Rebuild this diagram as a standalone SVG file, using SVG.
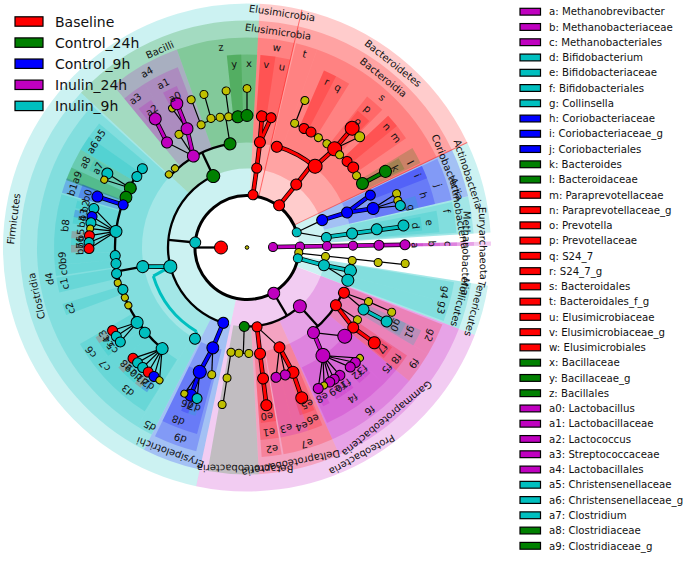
<svg xmlns="http://www.w3.org/2000/svg" xmlns:xlink="http://www.w3.org/1999/xlink" width="688" height="562" viewBox="0 0 688 562">
<style>
text{font-family:"DejaVu Sans","Liberation Sans",Arial,sans-serif;fill:#111}
.l text{font-size:10px;text-anchor:middle;dominant-baseline:central}
.sc{fill:none;stroke-opacity:.2}
.P{stroke-width:192}.K{stroke-width:148}.O{stroke-width:105}.F{stroke-width:61}.N{stroke-width:18}
.sR{stroke:#f00}.sG{stroke:#008000}.sB{stroke:#00f}.sM{stroke:#bf00bf}.sC{stroke:#00bfbf}
.e{fill:none;stroke:#000;stroke-width:1.2}
.e2{fill:none;stroke:#000;stroke-width:2.3}
.e3{fill:none;stroke:#000;stroke-width:3}
.o{fill:none;stroke:#000;stroke-width:4.6}
.cR{fill:none;stroke:#f00;stroke-width:3}.cG{fill:none;stroke:#008000;stroke-width:3}.cB{fill:none;stroke:#00f;stroke-width:3}.cM{fill:none;stroke:#bf00bf;stroke-width:3}.cC{fill:none;stroke:#00bfbf;stroke-width:3}
.n{stroke:#000;stroke-width:1}
.r{fill:#f00}.g{fill:#008000}.b{fill:#00f}.m{fill:#bf00bf}.c{fill:#00bfbf}.y{fill:#bfbf00}
.lg{stroke:#000;stroke-width:1.2}
.leg1 text{font-size:14px}
.leg2 text{font-size:10.2px}
</style>
<defs>
<g id="gR">
<line x1="53" x2="80" y2="0.7" transform="rotate(276.5)"/>
<line x1="80" x2="106" transform="rotate(277)"/>
<line x1="106" x2="132" y2="-1.15" transform="rotate(277)"/>
<line x1="106" x2="131.75" y2="8.06" transform="rotate(277)"/>
<line x1="53" x2="80" y2="0.98" transform="rotate(307.3)"/>
<line x1="80" x2="105.5" transform="rotate(308)"/>
<circle r="105.5" pathLength="360" stroke-dasharray="23.5 360" transform="rotate(286.5)"/>
<line x1="106" x2="131.95" y2="3.69" transform="rotate(310)"/>
<line x1="132" x2="159" y2="-0.55" transform="rotate(311.6)"/>
<line x1="106" x2="132.68" y2="9.28" transform="rotate(33)"/>
<line x1="133" x2="159" y2="-0.55" transform="rotate(37)"/>
<line x1="80" x2="107" y2="0.37" transform="rotate(82.8)"/>
<line x1="107" x2="159" transform="rotate(83)"/>
<line x1="105" x2="132.9" y2="-5.1" transform="rotate(72)"/>
<line x1="133" x2="160" y2="0.56" transform="rotate(69.8)"/>
</g>
<g id="gG">
<line x1="132" x2="158" y2="0.55" transform="rotate(331)"/>
</g>
<g id="gB">
<line x1="80" x2="106" y2="1.3" transform="rotate(340)"/>
<line x1="106" x2="131.9" y2="4.84" transform="rotate(340.7)"/>
<line x1="106" x2="133.7" y2="-8.65" transform="rotate(340.7)"/>
<line x1="79" x2="106" y2="2.4" transform="rotate(107.5)"/>
<line x1="106" x2="132.92" y2="4.64" transform="rotate(108.8)"/>
<line x1="133" x2="158" transform="rotate(110.8)"/>
<line x1="131" x2="158" y2="-0.55" transform="rotate(199)"/>
</g>
<g id="gC">
<line x1="80" x2="158" transform="rotate(352.4)"/>
<line x1="52" x2="79" y2="1.38" transform="rotate(12)"/>
<line x1="79" x2="106" y2="-0.74" transform="rotate(13)"/>
<line x1="79" x2="105.8" y2="6.66" transform="rotate(166)"/>
<line x1="132" x2="158" transform="rotate(28)"/>
</g>
<g id="gM">
<line x1="26" x2="158" transform="rotate(-1)"/>
<line x1="106" x2="132.74" y2="8.35" transform="rotate(239.6)"/>
<line x1="133" x2="159.98" y2="2.23" transform="rotate(243.2)"/>
<line x1="132" x2="157.92" y2="4.96" transform="rotate(232.7)"/>
<line x1="108" x2="131.83" y2="6.68" transform="rotate(52)"/>
</g>
</defs>
<rect width="688" height="562" fill="#fff"/>
<g transform="translate(247,247.5)">
<g id="sectors">
<circle class="sc P sC" r="148" pathLength="360" stroke-dasharray="171 360" transform="rotate(102)"/>
<circle class="sc P sR" r="148" pathLength="360" stroke-dasharray="10 360" transform="rotate(273)"/>
<circle class="sc P sR" r="148" pathLength="360" stroke-dasharray="51.5 360" transform="rotate(283)"/>
<circle class="sc P sC" r="148" pathLength="360" stroke-dasharray="22 360" transform="rotate(334.5)"/>
<circle class="sc P sM" r="148" pathLength="360" stroke-dasharray="1 360" transform="rotate(358.6)"/>
<circle class="sc P sC" r="148" pathLength="360" stroke-dasharray="12 360" transform="rotate(9)"/>
<circle class="sc P sM" r="148" pathLength="360" stroke-dasharray="81 360" transform="rotate(21)"/>
<circle class="sc K sG" r="153" pathLength="360" stroke-dasharray="50 360" transform="rotate(223)"/>
<circle class="sc K sC" r="153" pathLength="360" stroke-dasharray="106 360" transform="rotate(117)"/>
<circle class="sc K sB" r="153" pathLength="360" stroke-dasharray="15 360" transform="rotate(102)"/>
<circle class="sc K sR" r="153" pathLength="360" stroke-dasharray="10 360" transform="rotate(273)"/>
<circle class="sc K sR" r="153" pathLength="360" stroke-dasharray="51.5 360" transform="rotate(283)"/>
<circle class="sc K sB" r="153" pathLength="360" stroke-dasharray="12.5 360" transform="rotate(334.5)"/>
<circle class="sc K sC" r="153" pathLength="360" stroke-dasharray="9.5 360" transform="rotate(347)"/>
<circle class="sc K sM" r="153" pathLength="360" stroke-dasharray="1 360" transform="rotate(358.6)"/>
<circle class="sc K sC" r="153" pathLength="360" stroke-dasharray="12 360" transform="rotate(9)"/>
<circle class="sc K sM" r="153" pathLength="360" stroke-dasharray="45 360" transform="rotate(21)"/>
<circle class="sc K sR" r="153" pathLength="360" stroke-dasharray="21 360" transform="rotate(66)"/>
<circle class="sc K sG" r="153" pathLength="360" stroke-dasharray="13 360" transform="rotate(87)"/>
<circle class="sc O sG" r="157.5" pathLength="360" stroke-dasharray="22.5 360" transform="rotate(250.5)"/>
<circle class="sc O sM" r="157.5" pathLength="360" stroke-dasharray="20 360" transform="rotate(230.5)"/>
<circle class="sc O sC" r="157.5" pathLength="360" stroke-dasharray="101 360" transform="rotate(121.5)"/>
<circle class="sc O sC" r="157.5" pathLength="360" stroke-dasharray="4.5 360" transform="rotate(117)"/>
<circle class="sc O sB" r="157.5" pathLength="360" stroke-dasharray="12 360" transform="rotate(104)"/>
<circle class="sc O sR" r="157.5" pathLength="360" stroke-dasharray="10 360" transform="rotate(273)"/>
<circle class="sc O sR" r="157.5" pathLength="360" stroke-dasharray="6 360" transform="rotate(283.5)"/>
<circle class="sc O sR" r="157.5" pathLength="360" stroke-dasharray="45 360" transform="rotate(289.5)"/>
<circle class="sc O sB" r="157.5" pathLength="360" stroke-dasharray="12 360" transform="rotate(335)"/>
<circle class="sc O sC" r="157.5" pathLength="360" stroke-dasharray="8.5 360" transform="rotate(347.5)"/>
<circle class="sc O sM" r="157.5" pathLength="360" stroke-dasharray="1 360" transform="rotate(358.6)"/>
<circle class="sc O sC" r="157.5" pathLength="360" stroke-dasharray="6 360" transform="rotate(9.5)"/>
<circle class="sc O sC" r="157.5" pathLength="360" stroke-dasharray="5 360" transform="rotate(15.5)"/>
<circle class="sc O sR" r="157.5" pathLength="360" stroke-dasharray="9 360" transform="rotate(21.5)"/>
<circle class="sc O sR" r="157.5" pathLength="360" stroke-dasharray="9 360" transform="rotate(30.5)"/>
<circle class="sc O sM" r="157.5" pathLength="360" stroke-dasharray="26.5 360" transform="rotate(39.5)"/>
<circle class="sc O sR" r="157.5" pathLength="360" stroke-dasharray="14 360" transform="rotate(66)"/>
<circle class="sc O sR" r="157.5" pathLength="360" stroke-dasharray="5.5 360" transform="rotate(80.5)"/>
<circle class="sc F sG" r="162.5" pathLength="360" stroke-dasharray="9 360" transform="rotate(264)"/>
<circle class="sc F sG" r="162.5" pathLength="360" stroke-dasharray="4.3 360" transform="rotate(264)"/>
<circle class="sc F sM" r="162.5" pathLength="360" stroke-dasharray="11 360" transform="rotate(238)"/>
<circle class="sc F sM" r="162.5" pathLength="360" stroke-dasharray="7.5 360" transform="rotate(230.5)"/>
<circle class="sc F sR" r="162.5" pathLength="360" stroke-dasharray="9 360" transform="rotate(274)"/>
<circle class="sc F sR" r="162.5" pathLength="360" stroke-dasharray="4.5 360" transform="rotate(274)"/>
<circle class="sc F sR" r="162.5" pathLength="360" stroke-dasharray="8.5 360" transform="rotate(293.5)"/>
<circle class="sc F sR" r="162.5" pathLength="360" stroke-dasharray="4 360" transform="rotate(293.5)"/>
<circle class="sc F sR" r="162.5" pathLength="360" stroke-dasharray="6 360" transform="rotate(308.5)"/>
<circle class="sc F sR" r="162.5" pathLength="360" stroke-dasharray="8.5 360" transform="rotate(317)"/>
<circle class="sc F sR" r="162.5" pathLength="360" stroke-dasharray="4 360" transform="rotate(317)"/>
<circle class="sc F sG" r="162.5" pathLength="360" stroke-dasharray="5 360" transform="rotate(329)"/>
<circle class="sc F sB" r="162.5" pathLength="360" stroke-dasharray="12 360" transform="rotate(335)"/>
<circle class="sc F sB" r="162.5" pathLength="360" stroke-dasharray="4 360" transform="rotate(335)"/>
<circle class="sc F sC" r="162.5" pathLength="360" stroke-dasharray="6.5 360" transform="rotate(349)"/>
<circle class="sc F sM" r="162.5" pathLength="360" stroke-dasharray="1 360" transform="rotate(358.6)"/>
<circle class="sc F sC" r="162.5" pathLength="360" stroke-dasharray="5 360" transform="rotate(25.5)"/>
<circle class="sc F sR" r="162.5" pathLength="360" stroke-dasharray="5.5 360" transform="rotate(34)"/>
<circle class="sc F sM" r="162.5" pathLength="360" stroke-dasharray="5.5 360" transform="rotate(39.5)"/>
<circle class="sc F sM" r="162.5" pathLength="360" stroke-dasharray="20.5 360" transform="rotate(45)"/>
<circle class="sc F sR" r="162.5" pathLength="360" stroke-dasharray="4.5 360" transform="rotate(67)"/>
<circle class="sc F sM" r="162.5" pathLength="360" stroke-dasharray="4 360" transform="rotate(71.5)"/>
<circle class="sc F sM" r="162.5" pathLength="360" stroke-dasharray="4.5 360" transform="rotate(75.5)"/>
<circle class="sc F sR" r="162.5" pathLength="360" stroke-dasharray="5.5 360" transform="rotate(80.5)"/>
<circle class="sc F sB" r="162.5" pathLength="360" stroke-dasharray="11 360" transform="rotate(105)"/>
<circle class="sc F sC" r="162.5" pathLength="360" stroke-dasharray="16 360" transform="rotate(122)"/>
<circle class="sc F sC" r="162.5" pathLength="360" stroke-dasharray="4.5 360" transform="rotate(138)"/>
<circle class="sc F sC" r="162.5" pathLength="360" stroke-dasharray="7.5 360" transform="rotate(142.5)"/>
<circle class="sc F sC" r="162.5" pathLength="360" stroke-dasharray="3.5 360" transform="rotate(159.5)"/>
<circle class="sc F sC" r="162.5" pathLength="360" stroke-dasharray="4.5 360" transform="rotate(166.5)"/>
<circle class="sc F sC" r="162.5" pathLength="360" stroke-dasharray="3.2 360" transform="rotate(171.5)"/>
<circle class="sc F sC" r="162.5" pathLength="360" stroke-dasharray="3.3 360" transform="rotate(174.7)"/>
<circle class="sc F sC" r="162.5" pathLength="360" stroke-dasharray="18 360" transform="rotate(178)"/>
<circle class="sc F sB" r="162.5" pathLength="360" stroke-dasharray="4.5 360" transform="rotate(196.5)"/>
<circle class="sc F sG" r="162.5" pathLength="360" stroke-dasharray="10 360" transform="rotate(200.5)"/>
<circle class="sc F sG" r="162.5" pathLength="360" stroke-dasharray="4 360" transform="rotate(200.5)"/>
<circle class="sc F sC" r="162.5" pathLength="360" stroke-dasharray="4.5 360" transform="rotate(210.5)"/>
<circle class="sc F sC" r="162.5" pathLength="360" stroke-dasharray="9.5 360" transform="rotate(210.5)"/>
<circle class="sc N sM" r="167" pathLength="360" stroke-dasharray="5 360" transform="rotate(241.5)"/>
<circle class="sc N sM" r="167" pathLength="360" stroke-dasharray="5 360" transform="rotate(232)"/>
<circle class="sc N sR" r="167" pathLength="360" stroke-dasharray="5 360" transform="rotate(309)"/>
<circle class="sc N sG" r="167" pathLength="360" stroke-dasharray="4 360" transform="rotate(329.5)"/>
<circle class="sc N sC" r="167" pathLength="360" stroke-dasharray="4 360" transform="rotate(343)"/>
<circle class="sc N sC" r="167" pathLength="360" stroke-dasharray="4.5 360" transform="rotate(350)"/>
<circle class="sc N sM" r="167" pathLength="360" stroke-dasharray="1 360" transform="rotate(358.6)"/>
<circle class="sc N sC" r="167" pathLength="360" stroke-dasharray="4.5 360" transform="rotate(25.5)"/>
<circle class="sc N sR" r="167" pathLength="360" stroke-dasharray="4.5 360" transform="rotate(34.5)"/>
<circle class="sc N sM" r="167" pathLength="360" stroke-dasharray="2.4 360" transform="rotate(62)"/>
<circle class="sc N sM" r="167" pathLength="360" stroke-dasharray="2.4 360" transform="rotate(57.2)"/>
<circle class="sc N sM" r="167" pathLength="360" stroke-dasharray="2 360" transform="rotate(55.3)"/>
<circle class="sc N sM" r="167" pathLength="360" stroke-dasharray="2.4 360" transform="rotate(52.8)"/>
<circle class="sc N sM" r="167" pathLength="360" stroke-dasharray="2.4 360" transform="rotate(48)"/>
<circle class="sc N sM" r="167" pathLength="360" stroke-dasharray="2.4 360" transform="rotate(45.5)"/>
<circle class="sc N sR" r="167" pathLength="360" stroke-dasharray="5 360" transform="rotate(67.5)"/>
<circle class="sc N sR" r="167" pathLength="360" stroke-dasharray="5 360" transform="rotate(80.5)"/>
<circle class="sc N sB" r="167" pathLength="360" stroke-dasharray="2.5 360" transform="rotate(109.5)"/>
<circle class="sc N sC" r="167" pathLength="360" stroke-dasharray="2.5 360" transform="rotate(107)"/>
<circle class="sc N sR" r="167" pathLength="360" stroke-dasharray="2.4 360" transform="rotate(134.6)"/>
<circle class="sc N sC" r="167" pathLength="360" stroke-dasharray="2.4 360" transform="rotate(132.3)"/>
<circle class="sc N sC" r="167" pathLength="360" stroke-dasharray="2.4 360" transform="rotate(129.8)"/>
<circle class="sc N sR" r="167" pathLength="360" stroke-dasharray="2.4 360" transform="rotate(127.2)"/>
<circle class="sc N sB" r="167" pathLength="360" stroke-dasharray="2.4 360" transform="rotate(124.6)"/>
<circle class="sc N sR" r="167" pathLength="360" stroke-dasharray="2.4 360" transform="rotate(147)"/>
<circle class="sc N sC" r="167" pathLength="360" stroke-dasharray="2.4 360" transform="rotate(144.6)"/>
<circle class="sc N sC" r="167" pathLength="360" stroke-dasharray="2.4 360" transform="rotate(142)"/>
<circle class="sc N sC" r="167" pathLength="360" stroke-dasharray="2.4 360" transform="rotate(193)"/>
<circle class="sc N sB" r="167" pathLength="360" stroke-dasharray="2.4 360" transform="rotate(190)"/>
<circle class="sc N sC" r="167" pathLength="360" stroke-dasharray="2.4 360" transform="rotate(187.8)"/>
<circle class="sc N sR" r="167" pathLength="360" stroke-dasharray="2.4 360" transform="rotate(183)"/>
<circle class="sc N sC" r="167" pathLength="360" stroke-dasharray="2.4 360" transform="rotate(180.6)"/>
<circle class="sc N sR" r="167" pathLength="360" stroke-dasharray="2.4 360" transform="rotate(178.4)"/>
<circle class="sc N sB" r="167" pathLength="360" stroke-dasharray="4.5 360" transform="rotate(196.5)"/>
<circle class="sc N sC" r="167" pathLength="360" stroke-dasharray="4 360" transform="rotate(206)"/>
<g stroke="#f00" stroke-opacity=".5" stroke-width="1">
<line x1="52" x2="244" transform="rotate(283)"/>
<line x1="52" x2="244" transform="rotate(334.5)"/>
</g>
</g>
<g id="connectors">
<g class="e3"><circle r="52" pathLength="360" stroke-dasharray="337.5 360" transform="rotate(5.5)"/></g>
<g class="e2">
<line x1="26" x2="52" transform="rotate(180)"/>
<line x1="52" x2="79" transform="rotate(185.5)"/>
<circle r="79" pathLength="360" stroke-dasharray="137.2 360" transform="rotate(107.5)"/>
<line x1="79" x2="105" transform="rotate(244.7)"/>
<circle r="105" pathLength="360" stroke-dasharray="37.6 360" transform="rotate(223.1)"/>
<line x1="106" x2="132" transform="rotate(169.6)"/>
<circle r="132" pathLength="360" stroke-dasharray="87 360" transform="rotate(130)"/>
<line x1="53" x2="79" transform="rotate(59.6)"/>
<circle r="79" pathLength="360" stroke-dasharray="44 360" transform="rotate(48)"/>
<line x1="79" x2="106" transform="rotate(48)"/>
<circle r="106" pathLength="360" stroke-dasharray="27 360" transform="rotate(25)"/>
</g>
<g class="e">
<line x1="105" x2="132" transform="rotate(260.7)"/>
<circle r="132" pathLength="360" stroke-dasharray="20.5 360" transform="rotate(249.5)"/>
<line x1="131" x2="158" transform="rotate(249.4)"/>
<line x1="134" x2="159" transform="rotate(254.4)"/>
<line x1="132" x2="158" transform="rotate(262.2)"/>
<line x1="132" x2="159" transform="rotate(270)"/>
<line x1="106" x2="131.04" y2="-15.86" transform="rotate(239.6)"/>
<line x1="106" x2="132" y2="-1.38" transform="rotate(239.6)"/>
<line x1="133" x2="157.95" y2="-4.14" transform="rotate(243.2)"/>
<line x1="131" x2="157.98" y2="2.48" transform="rotate(207)"/>
<line x1="131" x2="157.94" y2="-4.41" transform="rotate(207)"/>
<path d="M132 0L156.7 -20.4M132 0L157.3 -14.3M132 0L157.8 -7.4M132 0L158 -0.3M132 0L157.9 5.5M132 0L157.6 11.8M132 0L156.7 20.1" transform="rotate(187)"/>
<path d="M133 0L157.8 7.2M133 0L158 0.3M133 0L157.9 -6.6" transform="rotate(145.7)"/>
<path d="M132 0L158.2 16.1M132 0L158.7 9.7M132 0L159 2.8M132 0L158.9 -4.4M132 0L158.6 -11.6M132 0L157.9 -18.3" transform="rotate(130)"/>
<line x1="106" x2="131.78" y2="-7.6" transform="rotate(108.8)"/>
<path d="M133 0L158.85 -6.94M133 0L158.86 6.66" transform="rotate(110.8)"/>
<circle r="132" pathLength="360" stroke-dasharray="40 360" transform="rotate(291)"/>
<line x1="133" x2="158" transform="rotate(291.2)"/>
<line x1="132" x2="157.63" y2="10.75" transform="rotate(311.6)"/>
<path d="M132 0L157.8 -7.2M132 0L158 -0.3M132 0L157.9 5.2" transform="rotate(342.8)"/>
<path d="M52 0L79.89 -4.19M52 0L78.83 13.62" transform="rotate(343)"/>
<line x1="79" x2="105.6" y2="9.24" transform="rotate(13)"/>
<line x1="52" x2="159" transform="rotate(6.2)"/>
<path d="M107 0L132.98 -2.32M107 0L131.82 6.91" transform="rotate(25)"/>
<line x1="133" x2="158.5" transform="rotate(24)"/>
<line x1="106" x2="132" transform="rotate(33)"/>
<line x1="108" x2="130.07" y2="-22.47" transform="rotate(52)"/>
<path d="M132 0L155.4 -28.8M132 0L156.4 -22.5M132 0L157.2 -15.7M132 0L158 -2.5M132 0L157.9 4.4M132 0L157.7 9.6M132 0L157.2 16.2M132 0L156.3 22.8" transform="rotate(54.9)"/>
<line x1="80" x2="103.14" y2="-19.67" transform="rotate(82.8)"/>
<path d="M105 0L132.97 3.02M105 0L132.41 12.52" transform="rotate(72)"/>
<line x1="79" x2="106" transform="rotate(92)"/>
<circle r="106" pathLength="360" stroke-dasharray="9.7 360" transform="rotate(89)"/>
<line x1="106" x2="159" transform="rotate(98.7)"/>
</g>
<g fill="none" stroke="#00bfbf" stroke-width="3">
<circle r="98" pathLength="360" stroke-dasharray="42 360" transform="rotate(121)"/>
<line x1="79" x2="97.87" y2="-5.13" transform="rotate(166)"/>
<line x1="98" x2="104.97" y2="-2.38" transform="rotate(121)"/>
</g>
<use href="#gR" class="o"/><use href="#gG" class="o"/><use href="#gB" class="o"/><use href="#gC" class="o"/><use href="#gM" class="o"/>
<use href="#gR" class="cR"/><use href="#gG" class="cG"/><use href="#gB" class="cB"/><use href="#gC" class="cC"/><use href="#gM" class="cM"/>
</g>
<g id="nodes">
<g id="root"><circle class="n y" r="1.8"/></g>
<g id="kingdoms">
<circle class="n r" cx="26" r="6.5" transform="rotate(180)"/>
<circle class="n m" cx="26" r="4.5" transform="rotate(-1)"/>
</g>
<g id="Firmicutes">
<circle class="n c" cx="52" r="5.5" transform="rotate(185.5)"/>
<circle class="n g" cx="79" r="6.5" transform="rotate(244.7)"/>
<circle class="n c" cx="79" r="6.5" transform="rotate(166)"/>
<circle class="n b" cx="79" r="5.5" transform="rotate(107.5)"/>
<circle class="n y" cx="107" r="3.5" transform="rotate(223.1)"/>
<circle class="n y" cx="107" r="3.5" transform="rotate(227.7)"/>
<circle class="n m" cx="106" r="6" transform="rotate(239.6)"/>
<circle class="n g" cx="105" r="6" transform="rotate(260.7)"/>
<circle class="n m" cx="132" r="5.5" transform="rotate(232.7)"/>
<circle class="n y" cx="132" r="4" transform="rotate(239)"/>
<circle class="n m" cx="133" r="6" transform="rotate(243.2)"/>
<circle class="n y" cx="131" r="4" transform="rotate(249.5)"/>
<circle class="n y" cx="134" r="4" transform="rotate(254.4)"/>
<circle class="n y" cx="133" r="4" transform="rotate(258.3)"/>
<circle class="n y" cx="132" r="4" transform="rotate(262)"/>
<circle class="n g" cx="131" r="6" transform="rotate(266)"/>
<circle class="n g" cx="132" r="6" transform="rotate(270)"/>
<circle class="n m" cx="158" r="6" transform="rotate(234.5)"/>
<circle class="n y" cx="158" r="3.5" transform="rotate(241.7)"/>
<circle class="n m" cx="160" r="6" transform="rotate(244)"/>
<circle class="n y" cx="158" r="4" transform="rotate(249.3)"/>
<circle class="n y" cx="159" r="4" transform="rotate(254.3)"/>
<circle class="n y" cx="158" r="4" transform="rotate(262.4)"/>
<circle class="n y" cx="159" r="4" transform="rotate(270)"/>
<circle class="n c" cx="106" r="6" transform="rotate(169.6)"/>
<circle class="n c" cx="105" r="5.5" transform="rotate(119.7)"/>
<circle class="n c" cx="131" r="5" transform="rotate(217)"/>
<circle class="n c" cx="131" r="5" transform="rotate(212.8)"/>
<circle class="n g" cx="131" r="6" transform="rotate(207)"/>
<circle class="n g" cx="131" r="6" transform="rotate(202.5)"/>
<circle class="n b" cx="131" r="5" transform="rotate(199)"/>
<circle class="n c" cx="132" r="6" transform="rotate(187)"/>
<circle class="n c" cx="132" r="5" transform="rotate(176.5)"/>
<circle class="n c" cx="132" r="5" transform="rotate(173)"/>
<circle class="n c" cx="133" r="5" transform="rotate(168.7)"/>
<circle class="n y" cx="134" r="3.5" transform="rotate(164.7)"/>
<circle class="n c" cx="131" r="5" transform="rotate(161.3)"/>
<circle class="n y" cx="132" r="3.5" transform="rotate(157.7)"/>
<circle class="n y" cx="132" r="3.5" transform="rotate(154)"/>
<circle class="n c" cx="133" r="6" transform="rotate(145.7)"/>
<circle class="n c" cx="133" r="5.5" transform="rotate(140.2)"/>
<circle class="n c" cx="132" r="6" transform="rotate(130)"/>
<circle class="n c" cx="158" r="5.5" transform="rotate(207.9)"/>
<circle class="n y" cx="158" r="3.5" transform="rotate(205.4)"/>
<circle class="n b" cx="158" r="5.5" transform="rotate(198.8)"/>
<circle class="n c" cx="158" r="5" transform="rotate(194.3)"/>
<circle class="n b" cx="158" r="5" transform="rotate(191.3)"/>
<circle class="n c" cx="158" r="5" transform="rotate(189)"/>
<circle class="n y" cx="158" r="3.5" transform="rotate(186.9)"/>
<circle class="n r" cx="158" r="5" transform="rotate(184.3)"/>
<circle class="n c" cx="158" r="5" transform="rotate(181.8)"/>
<circle class="n r" cx="158" r="5" transform="rotate(179.6)"/>
<circle class="n r" cx="158" r="5" transform="rotate(148.3)"/>
<circle class="n c" cx="158" r="5" transform="rotate(145.8)"/>
<circle class="n c" cx="158" r="5" transform="rotate(143.3)"/>
<circle class="n r" cx="159" r="5" transform="rotate(135.8)"/>
<circle class="n c" cx="159" r="5" transform="rotate(133.5)"/>
<circle class="n c" cx="159" r="5" transform="rotate(131)"/>
<circle class="n r" cx="159" r="5" transform="rotate(128.4)"/>
<circle class="n b" cx="159" r="5" transform="rotate(125.8)"/>
<circle class="n y" cx="159" r="3.5" transform="rotate(123.4)"/>
<circle class="n b" cx="106" r="6" transform="rotate(108.8)"/>
<circle class="n b" cx="133" r="6.5" transform="rotate(110.8)"/>
<circle class="n y" cx="132" r="4" transform="rotate(105.5)"/>
<circle class="n b" cx="158" r="6" transform="rotate(110.8)"/>
<circle class="n c" cx="159" r="5" transform="rotate(108.3)"/>
<circle class="n y" cx="159" r="3.5" transform="rotate(113.2)"/>
</g>
<g id="Elusimicrobia">
<circle class="n r" cx="53" r="5" transform="rotate(276.5)"/>
<circle class="n r" cx="80" r="5" transform="rotate(277)"/>
<circle class="n r" cx="106" r="5.5" transform="rotate(277)"/>
<circle class="n r" cx="132" r="5.5" transform="rotate(276.5)"/>
<circle class="n r" cx="132" r="5" transform="rotate(280.5)"/>
</g>
<g id="Bacteroidetes">
<circle class="n r" cx="53" r="5.5" transform="rotate(307.3)"/>
<circle class="n r" cx="80" r="5.5" transform="rotate(308)"/>
<circle class="n r" cx="105" r="5.5" transform="rotate(286.5)"/>
<circle class="n r" cx="106" r="7" transform="rotate(310)"/>
<circle class="n y" cx="133" r="4" transform="rotate(291)"/>
<circle class="n r" cx="132" r="5" transform="rotate(295.6)"/>
<circle class="n r" cx="132" r="5" transform="rotate(299)"/>
<circle class="n y" cx="131" r="4" transform="rotate(303)"/>
<circle class="n y" cx="131" r="4" transform="rotate(307.6)"/>
<circle class="n r" cx="132" r="7" transform="rotate(311.6)"/>
<circle class="n y" cx="131" r="4" transform="rotate(315)"/>
<circle class="n r" cx="132" r="5" transform="rotate(319.3)"/>
<circle class="n r" cx="133" r="5.5" transform="rotate(323)"/>
<circle class="n y" cx="131" r="4" transform="rotate(326.8)"/>
<circle class="n g" cx="132" r="6" transform="rotate(331)"/>
<circle class="n y" cx="158" r="4" transform="rotate(291.5)"/>
<circle class="n r" cx="159" r="7" transform="rotate(311.4)"/>
<circle class="n y" cx="158" r="5" transform="rotate(315.5)"/>
<circle class="n g" cx="158" r="6" transform="rotate(331.2)"/>
</g>
<g id="Actinobacteria">
<circle class="n c" cx="52" r="4.5" transform="rotate(343)"/>
<circle class="n b" cx="80" r="5.5" transform="rotate(340)"/>
<circle class="n c" cx="80" r="5" transform="rotate(352.8)"/>
<circle class="n b" cx="106" r="5.5" transform="rotate(340.7)"/>
<circle class="n c" cx="106" r="5.5" transform="rotate(352.4)"/>
<circle class="n b" cx="134" r="5" transform="rotate(337)"/>
<circle class="n b" cx="132" r="6" transform="rotate(342.8)"/>
<circle class="n c" cx="131" r="5.5" transform="rotate(352)"/>
<circle class="n y" cx="159" r="4" transform="rotate(340.2)"/>
<circle class="n y" cx="158" r="4" transform="rotate(342.7)"/>
<circle class="n c" cx="159" r="5" transform="rotate(344.7)"/>
<circle class="n c" cx="158" r="5.5" transform="rotate(352)"/>
</g>
<g id="Euryarchaeota">
<circle class="n m" cx="53" r="4.5" transform="rotate(-1)"/>
<circle class="n m" cx="80" r="4.5" transform="rotate(-1)"/>
<circle class="n m" cx="106" r="4.5" transform="rotate(-1)"/>
<circle class="n m" cx="132" r="5" transform="rotate(-1)"/>
<circle class="n m" cx="158" r="5" transform="rotate(-1)"/>
</g>
<g id="other-phylum">
<circle class="n y" cx="52" r="4" transform="rotate(5.5)"/>
<circle class="n y" cx="79" r="4" transform="rotate(6.5)"/>
<circle class="n y" cx="106" r="4" transform="rotate(7)"/>
<circle class="n y" cx="132" r="4" transform="rotate(6.5)"/>
<circle class="n y" cx="159" r="4" transform="rotate(5.8)"/>
</g>
<g id="Tenericutes">
<circle class="n c" cx="52" r="4.5" transform="rotate(12)"/>
<circle class="n c" cx="79" r="5.5" transform="rotate(13)"/>
<circle class="n c" cx="106" r="6" transform="rotate(12.6)"/>
<circle class="n c" cx="106" r="6" transform="rotate(18)"/>
</g>
<g id="Proteobacteria">
<circle class="n m" cx="53" r="6" transform="rotate(59.6)"/>
<circle class="n m" cx="79" r="6.5" transform="rotate(48)"/>
<circle class="n r" cx="80" r="5" transform="rotate(82.8)"/>
<circle class="n g" cx="79" r="5" transform="rotate(92)"/>
<circle class="n r" cx="107" r="5.5" transform="rotate(25)"/>
<circle class="n r" cx="106" r="5.5" transform="rotate(33)"/>
<circle class="n m" cx="108" r="6" transform="rotate(52)"/>
<circle class="n r" cx="105" r="5.5" transform="rotate(72)"/>
<circle class="n r" cx="107" r="5.5" transform="rotate(83)"/>
<circle class="n y" cx="106" r="4" transform="rotate(89)"/>
<circle class="n y" cx="106" r="4" transform="rotate(94.4)"/>
<circle class="n y" cx="106" r="4" transform="rotate(98.7)"/>
<circle class="n y" cx="133" r="4" transform="rotate(24)"/>
<circle class="n c" cx="132" r="5.5" transform="rotate(28)"/>
<circle class="n y" cx="132" r="4" transform="rotate(33.2)"/>
<circle class="n r" cx="133" r="5.5" transform="rotate(37)"/>
<circle class="n m" cx="132" r="7" transform="rotate(42.2)"/>
<circle class="n m" cx="132" r="7" transform="rotate(54.9)"/>
<circle class="n r" cx="133" r="6" transform="rotate(69.8)"/>
<circle class="n m" cx="133" r="5" transform="rotate(73.3)"/>
<circle class="n m" cx="133" r="5" transform="rotate(77.4)"/>
<circle class="n r" cx="132" r="5.5" transform="rotate(83)"/>
<circle class="n y" cx="132" r="4" transform="rotate(98.7)"/>
<circle class="n y" cx="158.5" r="4" transform="rotate(24.1)"/>
<circle class="n c" cx="158" r="5.5" transform="rotate(27.9)"/>
<circle class="n r" cx="159" r="6" transform="rotate(36.8)"/>
<circle class="n y" cx="158" r="3.5" transform="rotate(44.4)"/>
<circle class="n m" cx="158" r="5" transform="rotate(46.7)"/>
<circle class="n m" cx="158" r="5" transform="rotate(49.2)"/>
<circle class="n m" cx="158" r="5" transform="rotate(54)"/>
<circle class="n m" cx="158" r="5" transform="rotate(56.5)"/>
<circle class="n m" cx="158" r="5" transform="rotate(58.4)"/>
<circle class="n y" cx="158" r="3.5" transform="rotate(60.8)"/>
<circle class="n m" cx="158" r="5" transform="rotate(63.2)"/>
<circle class="n r" cx="160" r="6" transform="rotate(70)"/>
<circle class="n r" cx="159" r="5.5" transform="rotate(83)"/>
<circle class="n y" cx="159" r="4" transform="rotate(99)"/>
</g>
</g>
<g id="labels" class="l">
<text transform="rotate(187) translate(235) rotate(90)">Firmicutes</text>
<text transform="rotate(278.5) translate(237) rotate(90)">Elusimicrobia</text>
<text transform="rotate(308.4) translate(235) rotate(90)">Bacteroidetes</text>
<text transform="rotate(341.7) translate(233) rotate(90)">Actinobacteria</text>
<text transform="rotate(-1) translate(236) rotate(90)">Euryarchaeota</text>
<text transform="rotate(15) translate(236) rotate(90)">Tenericutes</text>
<text transform="rotate(61) translate(237) rotate(90)">Proteobacteria</text>
<text transform="rotate(246.2) translate(216) rotate(90)">Bacilli</text>
<text transform="rotate(167) translate(216) rotate(90)">Clostridia</text>
<text transform="rotate(110.5) translate(219) rotate(90)">Erysipelotrichi</text>
<text transform="rotate(278.2) translate(218) rotate(90)">Elusimicrobia</text>
<text transform="rotate(308.7) translate(218) rotate(90)">Bacteroidia</text>
<text transform="rotate(338.2) translate(216) rotate(90)">Coriobacteriia</text>
<text transform="rotate(350.8) translate(215) rotate(90)">Actinobacteria</text>
<text transform="rotate(1.5) translate(219) rotate(90)">Methanobacteria</text>
<text transform="rotate(14.4) translate(220) rotate(90)">Mollicutes</text>
<text transform="rotate(50.7) translate(221) rotate(90)">Gammaproteobacteria</text>
<text transform="rotate(78.5) translate(220) rotate(90)">Deltaproteobacteria</text>
<text transform="rotate(90.5) translate(221) rotate(90)">Betaproteobacteria</text>
<text transform="rotate(262.6) translate(202) rotate(90)">z</text>
<text transform="rotate(240.3) translate(202) rotate(90)">a4</text>
<text transform="rotate(278.5) translate(202) rotate(90)">w</text>
<text transform="rotate(286.6) translate(202) rotate(90)">t</text>
<text transform="rotate(312) translate(202) rotate(90)">s</text>
<text transform="rotate(342) translate(201) rotate(90)">j</text>
<text transform="rotate(349.7) translate(203) rotate(90)">f</text>
<text transform="rotate(358.9) translate(201) rotate(90)">c</text>
<text transform="rotate(12.8) translate(203) rotate(90)">g4</text>
<text transform="rotate(17.2) translate(204) rotate(90)">g3</text>
<text transform="rotate(25.7) translate(203) rotate(90)">g2</text>
<text transform="rotate(34.8) translate(203) rotate(90)">f9</text>
<text transform="rotate(53) translate(204) rotate(90)">f6</text>
<text transform="rotate(73) translate(205) rotate(90)">e7</text>
<text transform="rotate(82.9) translate(203) rotate(90)">e2</text>
<text transform="rotate(109.3) translate(202) rotate(90)">d9</text>
<text transform="rotate(118.6) translate(203) rotate(90)">d5</text>
<text transform="rotate(171) translate(200) rotate(90)">d4</text>
<text transform="rotate(266) translate(184) rotate(90)">y</text>
<text transform="rotate(270.6) translate(184) rotate(90)">x</text>
<text transform="rotate(276) translate(184) rotate(90)">v</text>
<text transform="rotate(281) translate(184) rotate(90)">u</text>
<text transform="rotate(295.7) translate(184) rotate(90)">r</text>
<text transform="rotate(299.6) translate(184) rotate(90)">q</text>
<text transform="rotate(311) translate(184) rotate(90)">p</text>
<text transform="rotate(319.2) translate(185) rotate(90)">n</text>
<text transform="rotate(323.6) translate(185) rotate(90)">m</text>
<text transform="rotate(332.5) translate(184) rotate(90)">l</text>
<text transform="rotate(337.1) translate(185) rotate(90)">i</text>
<text transform="rotate(343.5) translate(184) rotate(90)">h</text>
<text transform="rotate(352.2) translate(184) rotate(90)">e</text>
<text transform="rotate(358.8) translate(185) rotate(90)">b</text>
<text transform="rotate(27.5) translate(184) rotate(90)">g1</text>
<text transform="rotate(36.7) translate(186) rotate(90)">f8</text>
<text transform="rotate(40.8) translate(185) rotate(90)">f5</text>
<text transform="rotate(55) translate(184) rotate(90)">f4</text>
<text transform="rotate(69) translate(184) rotate(90)">e6</text>
<text transform="rotate(73) translate(187) rotate(90)">e4</text>
<text transform="rotate(77.8) translate(185) rotate(90)">e3</text>
<text transform="rotate(83.2) translate(186) rotate(90)">e1</text>
<text transform="rotate(111.7) translate(186) rotate(90)">d8</text>
<text transform="rotate(129.8) translate(186) rotate(90)">d3</text>
<text transform="rotate(140.3) translate(185) rotate(90)">c7</text>
<text transform="rotate(146.2) translate(188) rotate(90)">c6</text>
<text transform="rotate(161) translate(187) rotate(90)">c2</text>
<text transform="rotate(168.8) translate(186) rotate(90)">c1</text>
<text transform="rotate(173.2) translate(185) rotate(90)">c0</text>
<text transform="rotate(176.8) translate(185) rotate(90)">b9</text>
<text transform="rotate(186.9) translate(183) rotate(90)">b8</text>
<text transform="rotate(198.3) translate(184) rotate(90)">b1</text>
<text transform="rotate(202.4) translate(184) rotate(90)">a9</text>
<text transform="rotate(207.7) translate(183) rotate(90)">a8</text>
<text transform="rotate(213) translate(184) rotate(90)">a6</text>
<text transform="rotate(217.3) translate(185) rotate(90)">a5</text>
<text transform="rotate(233.1) translate(186) rotate(90)">a3</text>
<text transform="rotate(242.9) translate(184) rotate(90)">a1</text>
<text transform="rotate(244.4) translate(167) rotate(90)">a0</text>
<text transform="rotate(235.3) translate(167) rotate(90)">a2</text>
<text transform="rotate(311.4) translate(168) rotate(90)">o</text>
<text transform="rotate(331.9) translate(168) rotate(90)">k</text>
<text transform="rotate(346.3) translate(169) rotate(90)">g</text>
<text transform="rotate(352.6) translate(170) rotate(90)">d</text>
<text transform="rotate(359.2) translate(168) rotate(90)">a</text>
<text transform="rotate(27.6) translate(168) rotate(90)">g0</text>
<text transform="rotate(36.8) translate(169) rotate(90)">f7</text>
<text transform="rotate(63.4) translate(168) rotate(90)">e8</text>
<text transform="rotate(58.4) translate(168) rotate(90)">e9</text>
<text transform="rotate(56.3) translate(168) rotate(90)">f0</text>
<text transform="rotate(54) translate(168) rotate(90)">f1</text>
<text transform="rotate(49.2) translate(168) rotate(90)">f2</text>
<text transform="rotate(46.7) translate(168) rotate(90)">f3</text>
<text transform="rotate(69) translate(168) rotate(90)">e5</text>
<text transform="rotate(83.3) translate(170) rotate(90)">e0</text>
<text transform="rotate(110.8) translate(168) rotate(90)">d6</text>
<text transform="rotate(108.3) translate(168) rotate(90)">d7</text>
<text transform="rotate(135.8) translate(169) rotate(90)">c8</text>
<text transform="rotate(133.5) translate(169) rotate(90)">c9</text>
<text transform="rotate(131) translate(169) rotate(90)">d0</text>
<text transform="rotate(128.4) translate(169) rotate(90)">d1</text>
<text transform="rotate(125.8) translate(169) rotate(90)">d2</text>
<text transform="rotate(148.3) translate(168) rotate(90)">c3</text>
<text transform="rotate(145.8) translate(168) rotate(90)">c4</text>
<text transform="rotate(143.3) translate(168) rotate(90)">c5</text>
<text transform="rotate(194.3) translate(167) rotate(90)">b2</text>
<text transform="rotate(191.3) translate(167) rotate(90)">b3</text>
<text transform="rotate(189) translate(167) rotate(90)">b4</text>
<text transform="rotate(184.3) translate(167) rotate(90)">b5</text>
<text transform="rotate(181.8) translate(167) rotate(90)">b6</text>
<text transform="rotate(179.6) translate(167) rotate(90)">b7</text>
<text transform="rotate(198) translate(168) rotate(90)">b0</text>
<text transform="rotate(208) translate(169) rotate(90)">a7</text>
</g>
</g>
<g id="legend-groups" class="leg1">
<g transform="translate(15,21.5)"><rect class="lg r" y="-4.7" width="28" height="9.4"/><text x="40" y="5">Baseline</text></g>
<g transform="translate(15,42.6)"><rect class="lg g" y="-4.7" width="28" height="9.4"/><text x="40" y="5">Control_24h</text></g>
<g transform="translate(15,63.7)"><rect class="lg b" y="-4.7" width="28" height="9.4"/><text x="40" y="5">Control_9h</text></g>
<g transform="translate(15,84.8)"><rect class="lg m" y="-4.7" width="28" height="9.4"/><text x="40" y="5">Inulin_24h</text></g>
<g transform="translate(15,105.9)"><rect class="lg c" y="-4.7" width="28" height="9.4"/><text x="40" y="5">Inulin_9h</text></g>
</g>
<g id="legend-clades" class="leg2">
<g transform="translate(520,11.7)"><rect class="lg m" y="-3.4" width="20.5" height="6.8"/><text x="29" y="3.7">a: Methanobrevibacter</text></g>
<g transform="translate(520,26.96)"><rect class="lg m" y="-3.4" width="20.5" height="6.8"/><text x="29" y="3.7">b: Methanobacteriaceae</text></g>
<g transform="translate(520,42.22)"><rect class="lg m" y="-3.4" width="20.5" height="6.8"/><text x="29" y="3.7">c: Methanobacteriales</text></g>
<g transform="translate(520,57.48)"><rect class="lg c" y="-3.4" width="20.5" height="6.8"/><text x="29" y="3.7">d: Bifidobacterium</text></g>
<g transform="translate(520,72.74)"><rect class="lg c" y="-3.4" width="20.5" height="6.8"/><text x="29" y="3.7">e: Bifidobacteriaceae</text></g>
<g transform="translate(520,88)"><rect class="lg c" y="-3.4" width="20.5" height="6.8"/><text x="29" y="3.7">f: Bifidobacteriales</text></g>
<g transform="translate(520,103.26)"><rect class="lg c" y="-3.4" width="20.5" height="6.8"/><text x="29" y="3.7">g: Collinsella</text></g>
<g transform="translate(520,118.52)"><rect class="lg b" y="-3.4" width="20.5" height="6.8"/><text x="29" y="3.7">h: Coriobacteriaceae</text></g>
<g transform="translate(520,133.78)"><rect class="lg b" y="-3.4" width="20.5" height="6.8"/><text x="29" y="3.7">i: Coriobacteriaceae_g</text></g>
<g transform="translate(520,149.04)"><rect class="lg b" y="-3.4" width="20.5" height="6.8"/><text x="29" y="3.7">j: Coriobacteriales</text></g>
<g transform="translate(520,164.3)"><rect class="lg g" y="-3.4" width="20.5" height="6.8"/><text x="29" y="3.7">k: Bacteroides</text></g>
<g transform="translate(520,179.56)"><rect class="lg g" y="-3.4" width="20.5" height="6.8"/><text x="29" y="3.7">l: Bacteroidaceae</text></g>
<g transform="translate(520,194.82)"><rect class="lg r" y="-3.4" width="20.5" height="6.8"/><text x="29" y="3.7">m: Paraprevotellaceae</text></g>
<g transform="translate(520,210.08)"><rect class="lg r" y="-3.4" width="20.5" height="6.8"/><text x="29" y="3.7">n: Paraprevotellaceae_g</text></g>
<g transform="translate(520,225.34)"><rect class="lg r" y="-3.4" width="20.5" height="6.8"/><text x="29" y="3.7">o: Prevotella</text></g>
<g transform="translate(520,240.6)"><rect class="lg r" y="-3.4" width="20.5" height="6.8"/><text x="29" y="3.7">p: Prevotellaceae</text></g>
<g transform="translate(520,255.86)"><rect class="lg r" y="-3.4" width="20.5" height="6.8"/><text x="29" y="3.7">q: S24_7</text></g>
<g transform="translate(520,271.12)"><rect class="lg r" y="-3.4" width="20.5" height="6.8"/><text x="29" y="3.7">r: S24_7_g</text></g>
<g transform="translate(520,286.38)"><rect class="lg r" y="-3.4" width="20.5" height="6.8"/><text x="29" y="3.7">s: Bacteroidales</text></g>
<g transform="translate(520,301.64)"><rect class="lg r" y="-3.4" width="20.5" height="6.8"/><text x="29" y="3.7">t: Bacteroidales_f_g</text></g>
<g transform="translate(520,316.9)"><rect class="lg r" y="-3.4" width="20.5" height="6.8"/><text x="29" y="3.7">u: Elusimicrobiaceae</text></g>
<g transform="translate(520,332.16)"><rect class="lg r" y="-3.4" width="20.5" height="6.8"/><text x="29" y="3.7">v: Elusimicrobiaceae_g</text></g>
<g transform="translate(520,347.42)"><rect class="lg r" y="-3.4" width="20.5" height="6.8"/><text x="29" y="3.7">w: Elusimicrobiales</text></g>
<g transform="translate(520,362.68)"><rect class="lg g" y="-3.4" width="20.5" height="6.8"/><text x="29" y="3.7">x: Bacillaceae</text></g>
<g transform="translate(520,377.94)"><rect class="lg g" y="-3.4" width="20.5" height="6.8"/><text x="29" y="3.7">y: Bacillaceae_g</text></g>
<g transform="translate(520,393.2)"><rect class="lg g" y="-3.4" width="20.5" height="6.8"/><text x="29" y="3.7">z: Bacillales</text></g>
<g transform="translate(520,408.46)"><rect class="lg m" y="-3.4" width="20.5" height="6.8"/><text x="29" y="3.7">a0: Lactobacillus</text></g>
<g transform="translate(520,423.72)"><rect class="lg m" y="-3.4" width="20.5" height="6.8"/><text x="29" y="3.7">a1: Lactobacillaceae</text></g>
<g transform="translate(520,438.98)"><rect class="lg m" y="-3.4" width="20.5" height="6.8"/><text x="29" y="3.7">a2: Lactococcus</text></g>
<g transform="translate(520,454.24)"><rect class="lg m" y="-3.4" width="20.5" height="6.8"/><text x="29" y="3.7">a3: Streptococcaceae</text></g>
<g transform="translate(520,469.5)"><rect class="lg m" y="-3.4" width="20.5" height="6.8"/><text x="29" y="3.7">a4: Lactobacillales</text></g>
<g transform="translate(520,484.76)"><rect class="lg c" y="-3.4" width="20.5" height="6.8"/><text x="29" y="3.7">a5: Christensenellaceae</text></g>
<g transform="translate(520,500.02)"><rect class="lg c" y="-3.4" width="20.5" height="6.8"/><text x="29" y="3.7">a6: Christensenellaceae_g</text></g>
<g transform="translate(520,515.28)"><rect class="lg c" y="-3.4" width="20.5" height="6.8"/><text x="29" y="3.7">a7: Clostridium</text></g>
<g transform="translate(520,530.54)"><rect class="lg g" y="-3.4" width="20.5" height="6.8"/><text x="29" y="3.7">a8: Clostridiaceae</text></g>
<g transform="translate(520,545.8)"><rect class="lg g" y="-3.4" width="20.5" height="6.8"/><text x="29" y="3.7">a9: Clostridiaceae_g</text></g>
</g>
</svg>
